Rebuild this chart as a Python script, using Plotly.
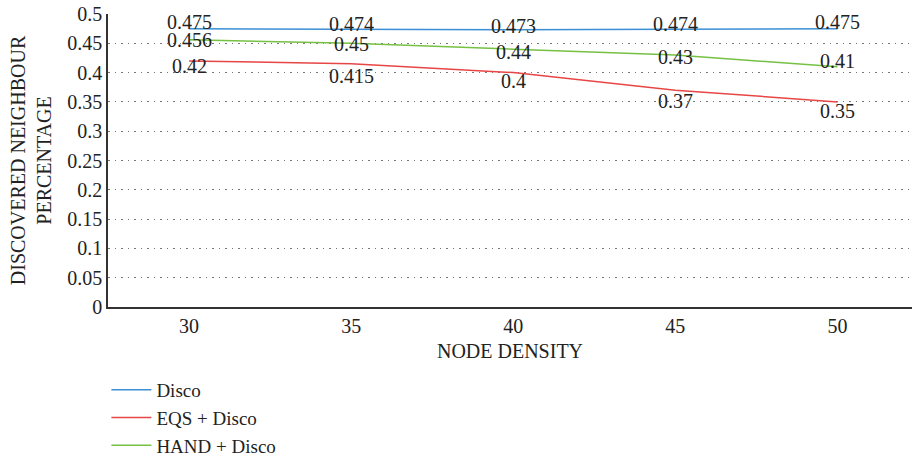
import plotly.graph_objects as go

categories = ["30", "35", "40", "45", "50"]
disco = [0.475, 0.474, 0.473, 0.474, 0.475]
eqs_disco = [0.42, 0.415, 0.4, 0.37, 0.35]
hand_disco = [0.456, 0.45, 0.44, 0.43, 0.41]
y_ticks = [0, 0.05, 0.1, 0.15, 0.2, 0.25, 0.3, 0.35, 0.4, 0.45, 0.5]
y_tick_labels = ["0", "0.05", "0.1", "0.15", "0.2", "0.25", "0.3", "0.35", "0.4", "0.45", "0.5"]

FONT = "Liberation Serif"
FS = 20
series = [
    ("Disco", disco, "#3b8fd6", [7, 5, 4, 5, 7]),
    ("EQS + Disco", eqs_disco, "#e84545", [-5, -12, -8, -11, -9]),
    ("HAND + Disco", hand_disco, "#76c043", [0, -1, -3, -2, 6]),
]

fig = go.Figure()
annotations = []
for i, (name, vals, color, shifts) in enumerate(series):
    fig.add_trace(go.Scatter(
        x=categories, y=vals, mode="lines", name=name,
        line=dict(color=color, width=1.5),
        legendgroup=f"g{i}",
    ))
    for j, (v, s) in enumerate(zip(vals, shifts)):
        annotations.append(dict(
            xref="x", yref="y", x=j, y=v, text=str(v), showarrow=False, yshift=s,
            font=dict(family=FONT, size=FS, color="#222222"),
            xanchor="center", yanchor="middle",
        ))

fig.update_layout(
    width=912, height=462,
    margin=dict(l=108, r=0, t=14, b=155, autoexpand=False),
    paper_bgcolor="white", plot_bgcolor="white",
    font=dict(family=FONT, size=FS, color="#222222"),
    annotations=annotations,
    showlegend=True,
    legend=dict(
        orientation="v", x=-0.002, xanchor="left",
        yref="container", y=0.197, yanchor="top",
        font=dict(family=FONT, size=19, color="#222222"),
        tracegroupgap=0, itemwidth=40,
    ),
    xaxis=dict(
        type="category", range=[-0.5, 4.46],
        showline=True, linecolor="#333333", linewidth=1.5,
        showgrid=False, ticks="",
        title=dict(text="NODE DENSITY", font=dict(family=FONT, size=FS), standoff=8),
        tickfont=dict(family=FONT, size=FS),
    ),
    yaxis=dict(
        range=[0, 0.5], tickvals=y_ticks, ticktext=y_tick_labels,
        showline=True, linecolor="#333333", linewidth=1.5,
        showgrid=True, gridcolor="#777777", griddash="1.5px,5px", gridwidth=1,
        zeroline=False, ticks="",
        title=dict(text="DISCOVERED NEIGHBOUR<br>PERCENTAGE", font=dict(family=FONT, size=FS), standoff=10),
        tickfont=dict(family=FONT, size=FS),
    ),
)

fig.write_html("out.html")
